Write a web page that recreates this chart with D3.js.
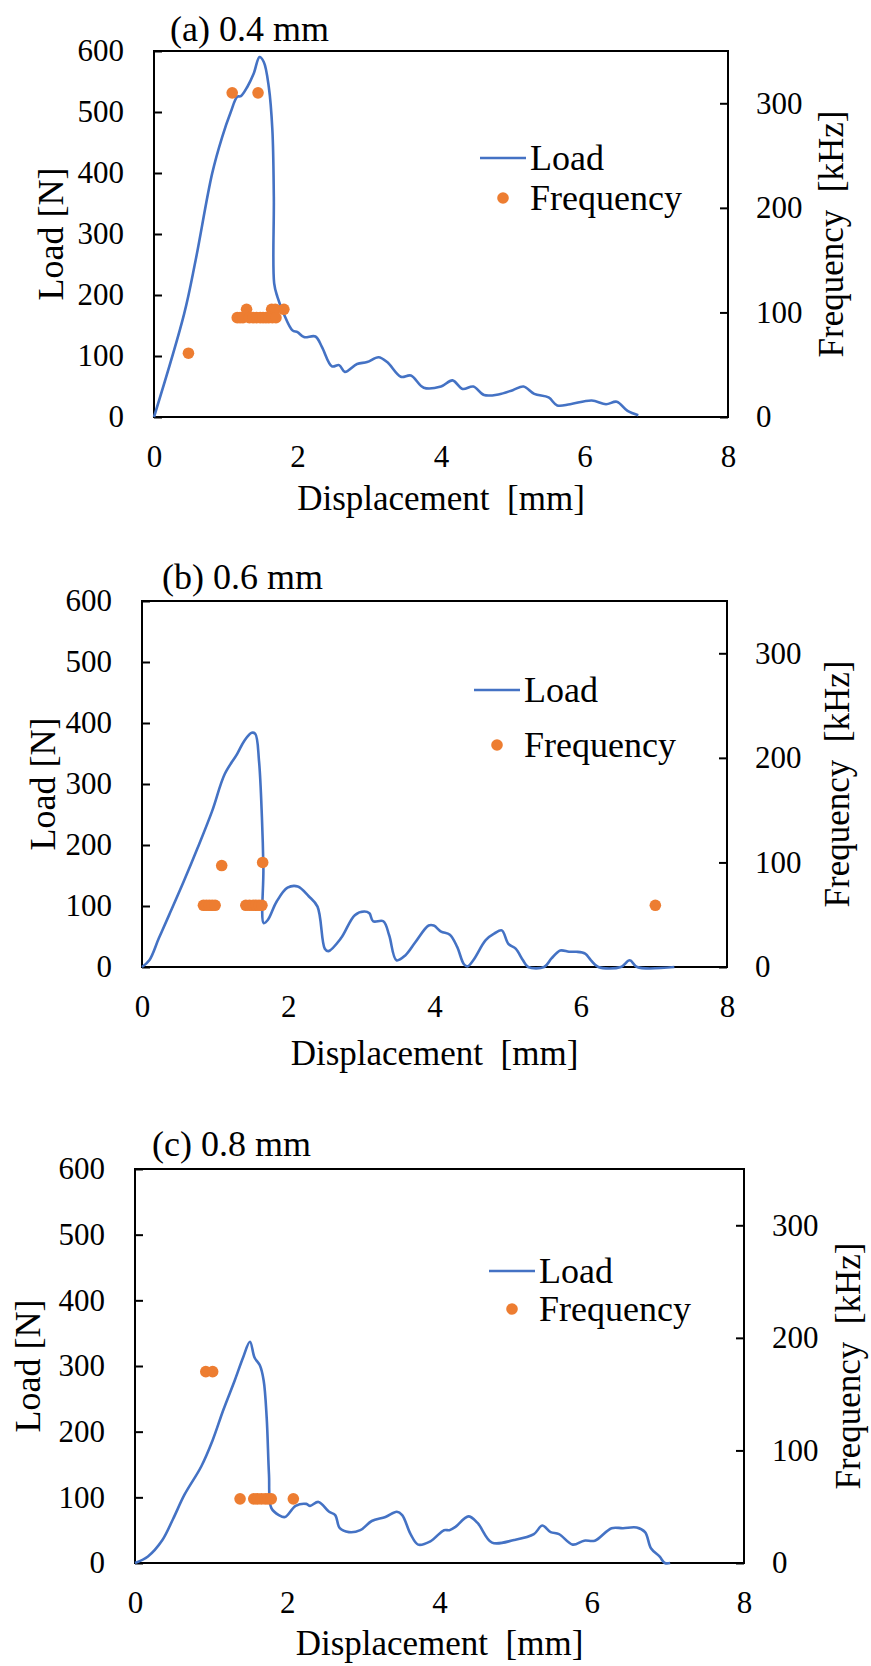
<!DOCTYPE html>
<html>
<head>
<meta charset="utf-8">
<title>Load and frequency vs displacement</title>
<script src="https://cdn.jsdelivr.net/npm/d3@7"></script>
<style>
  body { margin: 0; background: #fff; }
  svg text { font-family: "Liberation Serif", "Times New Roman", serif; fill: #000; }
  .pre { white-space: pre; }
</style>
</head>
<body>
<script>

// ---- data ----
var xTicks = [0, 2, 4, 6, 8];
var loadTicks = [0, 100, 200, 300, 400, 500, 600];
var freqTicks = [0, 100, 200, 300];
var titles = ["(a) 0.4 mm", "(b) 0.6 mm", "(c) 0.8 mm"];

// (a) 0.4 mm
var loadA_x = [0, 0.42, 0.58, 0.81, 0.95, 1.07, 1.16, 1.21, 1.30, 1.39, 1.47, 1.53, 1.60, 1.65, 1.67, 1.675, 1.72, 1.81, 1.93, 2.00, 2.09, 2.25, 2.34, 2.48, 2.58, 2.66, 2.83, 2.97, 3.13, 3.25, 3.44, 3.58, 3.76, 4.00, 4.16, 4.30, 4.45, 4.60, 4.80, 5.00, 5.15, 5.30, 5.50, 5.62, 5.80, 6.10, 6.30, 6.45, 6.60, 6.75];
var loadA_y = [0, 169, 257, 399, 459, 500, 525, 526, 541, 563, 590, 582, 541, 470, 361, 219, 197, 169, 142, 139, 131, 132, 115, 83, 85, 74, 87, 90, 98, 90, 66, 68, 48, 50, 60, 46, 50, 36, 37, 44, 50, 38, 32, 19, 21, 27, 21, 25, 10, 3];
var freqA_x = [0.48, 1.09, 1.45, 1.16, 1.20, 1.24, 1.29, 1.33, 1.38, 1.43, 1.48, 1.52, 1.56, 1.60, 1.64, 1.65, 1.69, 1.70, 1.81];
var freqA_y = [61, 310, 310, 95, 95, 95, 103, 95, 95, 95, 95, 95, 95, 95, 103, 95, 103, 95, 103];

// (b) 0.6 mm
var loadB_x = [0, 0.10, 0.23, 0.37, 0.57, 0.76, 0.96, 1.13, 1.30, 1.40, 1.50, 1.55, 1.60, 1.64, 1.66, 1.665, 1.72, 1.84, 1.99, 2.13, 2.28, 2.40, 2.50, 2.55, 2.72, 2.91, 3.04, 3.11, 3.16, 3.30, 3.38, 3.48, 3.60, 3.74, 3.92, 3.99, 4.09, 4.21, 4.31, 4.40, 4.45, 4.53, 4.70, 4.82, 4.92, 5.01, 5.11, 5.21, 5.28, 5.50, 5.60, 5.72, 5.84, 5.94, 6.06, 6.14, 6.24, 6.55, 6.67, 6.77, 7.28];
var loadB_y = [0, 11, 47, 85, 140, 195, 256, 316, 349, 371, 384, 382, 338, 245, 162, 72, 77, 107, 130, 132, 116, 99, 30, 26, 47, 85, 91, 88, 75, 75, 52, 11, 19, 41, 68, 68, 58, 53, 33, 5, 1, 11, 44, 55, 60, 38, 30, 11, 0, 0, 14, 27, 25, 25, 22, 11, 0, 0, 11, 0, 0];
var freqB_x = [0.84, 0.88, 0.92, 0.96, 1.00, 1.09, 1.42, 1.47, 1.52, 1.56, 1.60, 1.64, 1.65, 7.02];
var freqB_y = [59, 59, 59, 59, 59, 97, 59, 59, 59, 59, 59, 59, 100, 59];

// (c) 0.8 mm
var loadC_x = [0, 0.17, 0.36, 0.50, 0.65, 0.87, 1.02, 1.16, 1.31, 1.42, 1.51, 1.57, 1.64, 1.69, 1.73, 1.76, 1.79, 1.89, 1.97, 2.11, 2.25, 2.30, 2.41, 2.55, 2.63, 2.69, 2.81, 2.96, 3.11, 3.29, 3.44, 3.51, 3.62, 3.72, 3.88, 4.06, 4.13, 4.21, 4.38, 4.50, 4.69, 4.98, 5.24, 5.35, 5.46, 5.57, 5.75, 5.90, 6.04, 6.26, 6.41, 6.59, 6.70, 6.78, 6.89, 6.96, 7.03];
var loadC_y = [0, 10, 35, 67, 104, 147, 187, 233, 278, 313, 337, 313, 301, 278, 221, 135, 84, 73, 70, 87, 90, 87, 93, 78, 73, 53, 47, 50, 64, 70, 78, 73, 44, 28, 33, 50, 50, 55, 71, 61, 31, 35, 44, 57, 47, 44, 28, 34, 34, 53, 53, 54, 47, 22, 10, 0, 0];
var freqC_x = [0.93, 1.02, 1.38, 1.56, 1.61, 1.66, 1.71, 1.75, 1.79, 2.08];
var freqC_y = [170, 170, 57, 57, 57, 57, 57, 57, 57, 57];

// ---- layout ----
var width = 871, height = 1666;
var blue = "#4472C4", orange = "#ED7D31";
var serif = "'Liberation Serif', 'Times New Roman', serif";

var panels = [
  { lx: loadA_x, ly: loadA_y, fx: freqA_x, fy: freqA_y, left: 154, right: 728, top: 51, bottom: 417,
    titleX: 170, titleY: 41, xlabY: 510, ylabX: 50, flabX: 832, legX: 480, legY: 158, legGap: 40 },
  { lx: loadB_x, ly: loadB_y, fx: freqB_x, fy: freqB_y, left: 142, right: 727, top: 601, bottom: 967,
    titleX: 162, titleY: 589, xlabY: 1065, ylabX: 42, flabX: 838, legX: 474, legY: 690, legGap: 55 },
  { lx: loadC_x, ly: loadC_y, fx: freqC_x, fy: freqC_y, left: 135, right: 744, top: 1169, bottom: 1563,
    titleX: 152, titleY: 1156, xlabY: 1655, ylabX: 27, flabX: 849, legX: 489, legY: 1271, legGap: 38 }
];

var svg = d3.select("body").append("svg")
  .attr("width", width)
  .attr("height", height)
  .attr("font-family", serif);

panels.forEach(function (p, i) {
  var x = d3.scaleLinear().domain([0, 8]).range([p.left, p.right]);
  var y = d3.scaleLinear().domain([0, 600]).range([p.bottom, p.top]);
  var yf = d3.scaleLinear().domain([0, 350]).range([p.bottom, p.top]);
  var g = svg.append("g");

  // axes
  var ax = g.append("g").attr("transform", "translate(0," + p.bottom + ")")
    .call(d3.axisBottom(x).tickValues(xTicks).tickSize(0).tickPadding(28));
  var al = g.append("g").attr("transform", "translate(" + p.left + ",0)")
    .call(d3.axisLeft(y).tickValues(loadTicks).tickSize(-8).tickPadding(30));
  var ar = g.append("g").attr("transform", "translate(" + p.right + ",0)")
    .call(d3.axisRight(yf).tickValues(freqTicks).tickSize(-8).tickPadding(28));
  [ax, al, ar].forEach(function (a) {
    a.attr("font-family", serif).attr("font-size", 31);
    a.select(".domain").remove();
    a.selectAll("line").attr("stroke", "#000").attr("stroke-width", 2);
    a.selectAll("text").attr("fill", "#000");
  });

  // frame
  g.append("rect")
    .attr("x", p.left).attr("y", p.top)
    .attr("width", p.right - p.left).attr("height", p.bottom - p.top)
    .attr("fill", "none").attr("stroke", "#000").attr("stroke-width", 2);

  // load curve
  var pts = p.lx.map(function (d, k) { return [d, p.ly[k]]; });
  g.append("path")
    .datum(pts)
    .attr("fill", "none")
    .attr("stroke", blue)
    .attr("stroke-width", 2.6)
    .attr("stroke-linejoin", "round")
    .attr("d", d3.line()
      .curve(d3.curveCatmullRom.alpha(0.5))
      .x(function (d) { return x(d[0]); })
      .y(function (d) { return y(d[1]); }));

  // frequency points
  g.selectAll("circle.f")
    .data(p.fx.map(function (d, k) { return [d, p.fy[k]]; }))
    .enter().append("circle")
    .attr("class", "f")
    .attr("cx", function (d) { return x(d[0]); })
    .attr("cy", function (d) { return yf(d[1]); })
    .attr("r", 5.8)
    .attr("fill", orange);

  // labels
  g.append("text").attr("x", p.titleX).attr("y", p.titleY)
    .attr("font-size", 36).text(titles[i]);
  g.append("text").attr("class", "pre")
    .attr("x", (p.left + p.right) / 2).attr("y", p.xlabY)
    .attr("text-anchor", "middle").attr("font-size", 35)
    .text("Displacement  [mm]");
  g.append("text")
    .attr("transform", "translate(" + p.ylabX + "," + (p.top + p.bottom) / 2 + ") rotate(-90)")
    .attr("text-anchor", "middle").attr("dy", "0.35em").attr("font-size", 36)
    .text("Load [N]");
  g.append("text").attr("class", "pre")
    .attr("transform", "translate(" + p.flabX + "," + (p.top + p.bottom) / 2 + ") rotate(-90)")
    .attr("text-anchor", "middle").attr("dy", "0.3em").attr("font-size", 35)
    .text("Frequency  [kHz]");

  // legend
  g.append("line")
    .attr("x1", p.legX).attr("x2", p.legX + 46)
    .attr("y1", p.legY).attr("y2", p.legY)
    .attr("stroke", blue).attr("stroke-width", 2.6);
  g.append("text").attr("x", p.legX + 50).attr("y", p.legY + 12)
    .attr("font-size", 36).text("Load");
  g.append("circle")
    .attr("cx", p.legX + 23).attr("cy", p.legY + p.legGap)
    .attr("r", 5.8).attr("fill", orange);
  g.append("text").attr("x", p.legX + 50).attr("y", p.legY + p.legGap + 12)
    .attr("font-size", 36).text("Frequency");
});

</script>
</body>
</html>
